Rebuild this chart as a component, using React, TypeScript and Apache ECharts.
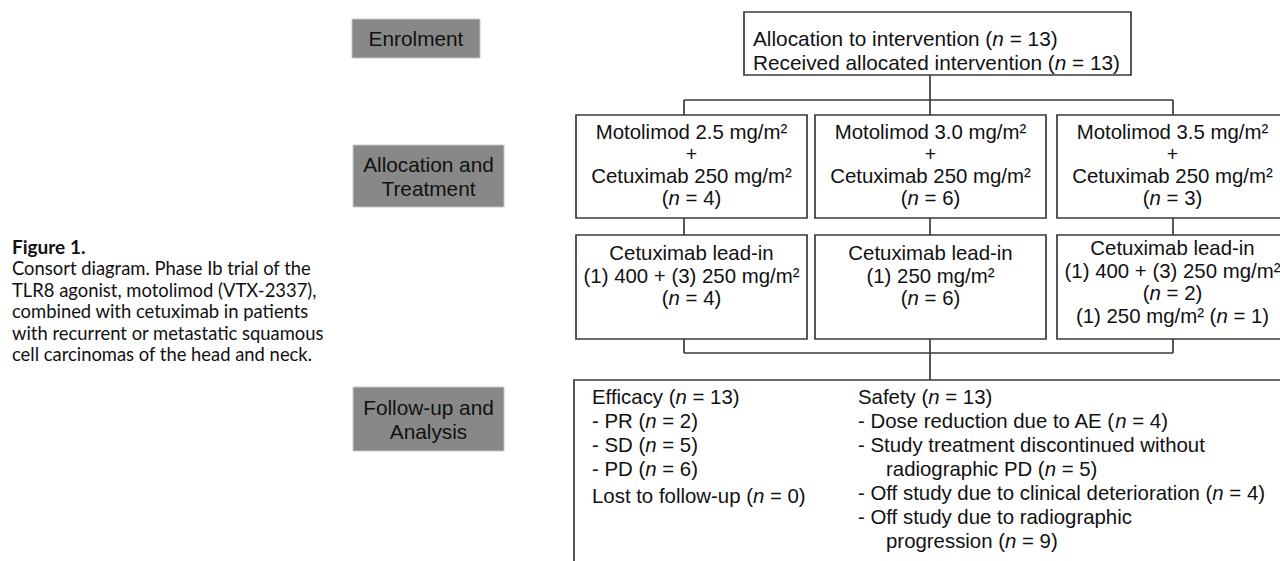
import React, { useEffect, useRef } from "react";
import * as echarts from "echarts";

// ---- data ----
const stageLabels = [["Enrolment"], ["Allocation and", "Treatment"], ["Follow-up and", "Analysis"]];
const allocatedN = 13;
const receivedN = 13;
const motolimodDoses = ["2.5", "3.0", "3.5"];
const cetuximabDose = 250;
const armN = [4, 6, 3];
const leadInLines = [
  ["Cetuximab lead-in", "(1) 400 + (3) 250 mg/m²", "({i|n} = 4)"],
  ["Cetuximab lead-in", "(1) 250 mg/m²", "({i|n} = 6)"],
  ["Cetuximab lead-in", "(1) 400 + (3) 250 mg/m²", "({i|n} = 2)", "(1) 250 mg/m² ({i|n} = 1)"],
];
const efficacyN = 13;
const responseLabels = ["PR", "SD", "PD"];
const responseN = [2, 5, 6];
const lostN = 0;
const safetyN = 13;
const safetyLines = [
  { text: "- Dose reduction due to AE ({i|n} = 4)", indent: false },
  { text: "- Study treatment discontinued without", indent: false },
  { text: "radiographic PD ({i|n} = 5)", indent: true },
  { text: "- Off study due to clinical deterioration ({i|n} = 4)", indent: false },
  { text: "- Off study due to radiographic", indent: false },
  { text: "progression ({i|n} = 9)", indent: true },
];
const captionTitle = "Figure 1.";
const captionLines = [
  "Consort diagram. Phase Ib trial of the",
  "TLR8 agonist, motolimod (VTX-2337),",
  "combined with cetuximab in patients",
  "with recurrent or metastatic squamous",
  "cell carcinomas of the head and neck.",
];

const FONT = "'Liberation Sans', Arial, Helvetica, sans-serif";
const CAP_FONT = "Lato, 'Open Sans', sans-serif";
const FS = 20.4;
const FS_FU = 20.4;
const INK = "#111";
const LINE = "#3a3a3a";

function txt(text: string, x: number, y: number, align: string, size = FS, family = FONT, weight = "normal") {
  return {
    type: "text",
    x,
    y,
    silent: true,
    style: {
      text,
      fontSize: size,
      fontFamily: family,
      fontWeight: weight,
      fill: INK,
      textAlign: align,
      align,
      textVerticalAlign: "middle",
      verticalAlign: "middle",
      rich: {
        i: { fontStyle: "italic", fontSize: size, fontFamily: family, fill: INK },
      },
    },
  };
}

function box(x: number, y: number, w: number, h: number) {
  return {
    type: "rect",
    shape: { x, y, width: w, height: h },
    style: { fill: "#fff", stroke: LINE, lineWidth: 1.7 },
  };
}

function line(x1: number, y1: number, x2: number, y2: number) {
  return {
    type: "line",
    shape: { x1, y1, x2, y2 },
    style: { stroke: LINE, lineWidth: 1.7 },
  };
}

function greyBox(x: number, y: number, w: number, h: number, lines: string[]) {
  const els: any[] = [
    {
      type: "rect",
      shape: { x, y, width: w, height: h },
      style: { fill: "#888888", stroke: "#c8c8c8", lineWidth: 1 },
    },
  ];
  const cx = x + w / 2;
  const cy = y + h / 2;
  const lh = 24;
  lines.forEach((l, i) => {
    els.push(txt(l, cx, cy + (i - (lines.length - 1) / 2) * lh, "center", 20.8, FONT));
  });
  return els;
}

export default function App() {
  const ref = useRef<HTMLDivElement>(null);
  useEffect(() => {
    document.body.style.margin = "0";
    const chart = echarts.init(ref.current!, null, { renderer: "svg" });
    const g: any[] = [];

    // caption
    g.push(txt(captionTitle, 12, 246, "left", 19, CAP_FONT, "bold"));
    captionLines.forEach((l, i) => g.push(txt(l, 12, 268 + i * 21.6, "left", 18.4, CAP_FONT)));

    // stage labels
    g.push(...greyBox(352, 19, 128, 39, stageLabels[0]));
    g.push(...greyBox(353, 145, 151, 62, stageLabels[1]));
    g.push(...greyBox(353, 387, 151, 64, stageLabels[2]));

    // connectors
    const armX = [684, 930, 1173];
    g.push(line(930, 75, 930, 100));
    g.push(line(armX[0], 100, armX[2], 100));
    armX.forEach((x) => g.push(line(x, 100, x, 115)));
    armX.forEach((x) => g.push(line(x, 218, x, 235)));
    g.push(line(armX[0], 339, armX[0], 353));
    g.push(line(armX[2], 339, armX[2], 353));
    g.push(line(armX[0], 353, armX[2], 353));
    g.push(line(930, 339, 930, 380));

    // top box
    g.push(box(744, 12, 387, 63));
    g.push(txt(`Allocation to intervention ({i|n} = ${allocatedN})`, 753, 38, "left", 20.8));
    g.push(txt(`Received allocated intervention ({i|n} = ${receivedN})`, 753, 62, "left", 20.8));

    // arm boxes
    const boxX = [576, 815, 1057];
    const boxW = 231;
    boxX.forEach((bx, i) => {
      const cx = bx + boxW / 2;
      g.push(box(bx, 115, boxW, 103));
      g.push(txt(`Motolimod ${motolimodDoses[i]} mg/m²`, cx, 132, "center"));
      g.push(txt("+", cx, 154, "center", 19.5));
      g.push(txt(`Cetuximab ${cetuximabDose} mg/m²`, cx, 176, "center"));
      g.push(txt(`({i|n} = ${armN[i]})`, cx, 198, "center"));

      g.push(box(bx, 235, boxW, 104));
      const ls = leadInLines[i];
      const top = ls.length > 3 ? 248 : 253;
      ls.forEach((l, j) => g.push(txt(l, cx, top + j * 22.7, "center")));
    });

    // follow-up box
    g.push(box(574, 380, 740, 220));
    const ly = 397;
    const step = 24;
    g.push(txt(`Efficacy ({i|n} = ${efficacyN})`, 592, ly, "left", FS_FU));
    responseLabels.forEach((r, i) =>
      g.push(txt(`- ${r} ({i|n} = ${responseN[i]})`, 592, ly + (i + 1) * step, "left", FS_FU))
    );
    g.push(txt(`Lost to follow-up ({i|n} = ${lostN})`, 592, 496, "left", FS_FU));

    g.push(txt(`Safety ({i|n} = ${safetyN})`, 858, ly, "left", FS_FU));
    safetyLines.forEach((s, i) =>
      g.push(txt(s.text, s.indent ? 886 : 858, ly + (i + 1) * step, "left", FS_FU))
    );

    chart.setOption({ animation: false, graphic: { elements: g } });
    return () => chart.dispose();
  }, []);
  return <div ref={ref} style={{ width: 1280, height: 561, background: "#fff" }} />;
}
